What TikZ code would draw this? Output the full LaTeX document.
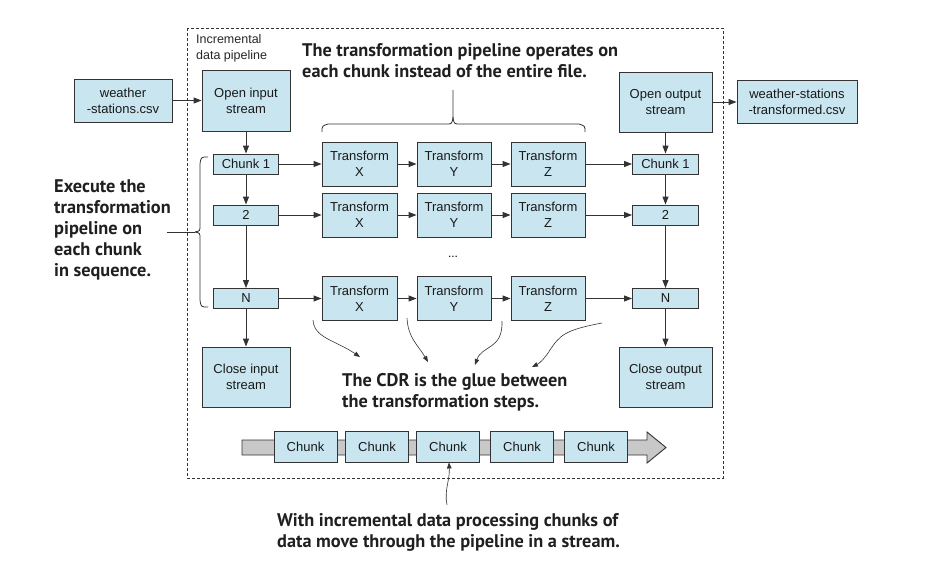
\documentclass[tikz,border=0pt]{standalone}
\usepackage{fontspec}
\setmainfont{Liberation Sans}
\newfontfamily\calloutfont{PT Sans}
\usetikzlibrary{arrows.meta}
\definecolor{boxc}{HTML}{C9E6F0}
\definecolor{linec}{HTML}{333333}
\definecolor{streamc}{HTML}{C8C8C8}
\tikzset{
  box/.style={draw=linec, fill=boxc, line width=0.9pt, align=center, inner sep=0pt,
    font=\fontsize{13}{16}\selectfont, text=black!90},
  sz/.style 2 args={minimum width=#1, minimum height=#2},
  arr/.style={draw=linec, line width=0.9pt, -{Triangle[length=8pt,width=6pt]}},
  thinarr/.style={draw=linec, line width=0.6pt, -{Triangle[length=6pt,width=4.5pt]}},
  callout/.style={font=\calloutfont\bfseries\fontsize{18.3}{21}\selectfont, align=left, inner sep=0pt, text=black!88},
  brace/.style={draw=linec, line width=0.8pt},
}
\begin{document}
\begin{tikzpicture}[x=1pt,y=-1pt]
\useasboundingbox (0,0) rectangle (926,570);
% dashed frame
\draw[linec, line width=0.8pt, dash pattern=on 3pt off 2pt] (187,28) rectangle (723,478);
\node[anchor=north west, align=left, inner sep=0pt, font=\fontsize{12.5}{16}\selectfont, text=black!85] (lbl) at (196,34) {Incremental\\data pipeline};

% input side
\node[box, sz={98pt}{43pt}] (csvin) at (123,100.5) {weather\\-stations.csv};
\node[box, sz={88pt}{61pt}] (openin) at (246,100.5) {Open input\\stream};
\node[box, sz={65pt}{20pt}] (c1L) at (246,164) {Chunk 1};
\node[box, sz={65pt}{20pt}] (c2L) at (246,215) {2};
\node[box, sz={65pt}{20pt}] (cNL) at (246,298.5) {N};
\node[box, sz={88pt}{60pt}] (closein) at (246,377) {Close input\\stream};

% transforms
\foreach \r/\y in {1/164, 2/215, N/298.5}{
  \node[box, sz={75pt}{44pt}] (tx\r) at (359.5,\y) {Transform\\X};
  \node[box, sz={74pt}{44pt}] (ty\r) at (454,\y) {Transform\\Y};
  \node[box, sz={74pt}{44pt}] (tz\r) at (548,\y) {Transform\\Z};
}
\node[inner sep=0pt, font=\fontsize{12}{14}\selectfont] (dots) at (453,257) {...};

% output side
\node[box, sz={93pt}{60pt}] (openout) at (665.5,102) {Open output\\stream};
\node[box, sz={66pt}{20pt}] (c1R) at (665.5,164) {Chunk 1};
\node[box, sz={66pt}{20pt}] (c2R) at (665.5,215) {2};
\node[box, sz={66pt}{20pt}] (cNR) at (665.5,298.5) {N};
\node[box, sz={93pt}{60pt}] (closeout) at (665.5,377) {Close output\\stream};
\node[box, sz={120pt}{43pt}] (csvout) at (797,102) {weather-stations\\-transformed.csv};

% arrows
\draw[arr] (csvin) -- (openin);
\draw[arr] (openin) -- (c1L);
\draw[arr] (c1L) -- (c2L);
\draw[arr] (c2L) -- (cNL);
\draw[arr] (cNL) -- (closein);
\foreach \r in {1,2,N}{
  \draw[arr] (c\r L) -- (tx\r);
  \draw[arr] (tx\r) -- (ty\r);
  \draw[arr] (ty\r) -- (tz\r);
  \draw[arr] (tz\r) -- (c\r R);
}
\draw[arr] (openout) -- (c1R);
\draw[arr] (c1R) -- (c2R);
\draw[arr] (c2R) -- (cNR);
\draw[arr] (cNR) -- (closeout);
\draw[arr] (openout) -- (csvout);

% callouts
\node[callout, anchor=west] (toptext) at (302,61) {The transformation pipeline operates on\\each chunk instead of the entire file.};
\node[callout, anchor=west] (lefttext) at (54,229.5) {Execute the\\transformation\\pipeline on\\each chunk\\in sequence.};
\node[callout, anchor=west] (cdrtext) at (342,392) {The CDR is the glue between\\the transformation steps.};
\node[callout, anchor=west] (bottext) at (277,532) {With incremental data processing chunks of\\data move through the pipeline in a stream.};

% top brace
\coordinate (tbtip) at (453,90);
\draw[brace] (322,132) .. controls (322,126) .. (328,124) -- (446,124) .. controls (452,124) .. (453,117) -- (tbtip);
\draw[brace] (585,132) .. controls (585,126) .. (579,124) -- (460,124) .. controls (454,124) .. (453,117);

% left brace
\coordinate (lbtip) at (195,232);
\draw[brace] (208,157) .. controls (201,157) .. (200,164) -- (200,225) .. controls (200,231) .. (lbtip);
\draw[brace] (208,307) .. controls (201,307) .. (200,300) -- (200,239) .. controls (200,233) .. (195,232);
\draw[brace] (167,232) -- (lbtip);

% stream
\draw[linec, line width=0.9pt, fill=streamc] (242,440) -- (647,440) -- (647,432) -- (666,447.5) -- (647,463) -- (647,455) -- (242,455) -- cycle;
\node[box, sz={63pt}{31pt}] (s1) at (305.5,446.5) {Chunk};
\node[box, sz={63pt}{31pt}] (s2) at (377,446.5) {Chunk};
\node[box, sz={63pt}{31pt}] (s3) at (448,446.5) {Chunk};
\node[box, sz={63pt}{31pt}] (s4) at (522,446.5) {Chunk};
\node[box, sz={63pt}{31pt}] (s5) at (596,446.5) {Chunk};

% CDR arrows
\coordinate (g1) at (313,320);
\coordinate (g2) at (407,318);
\coordinate (g3) at (502,321);
\coordinate (g4) at (602,323);
\coordinate (g1e) at (360,357);
\coordinate (g2e) at (428,362);
\coordinate (g3e) at (475,365);
\coordinate (g4e) at (532,367);
\draw[thinarr] (g1) .. controls (314,338) and (335,340) .. (g1e);
\draw[thinarr] (g2) .. controls (408,338) and (418,345) .. (g2e);
\draw[thinarr] (g3) .. controls (503,350) and (482,345) .. (g3e);
\draw[thinarr] (g4) .. controls (565,330) and (560,335) .. (550,350) .. controls (545,358) and (540,363) .. (g4e);
\coordinate (b1) at (447,505);
\draw[thinarr] (b1) .. controls (444,490) and (450,480) .. (s3);
\end{tikzpicture}
\end{document}
